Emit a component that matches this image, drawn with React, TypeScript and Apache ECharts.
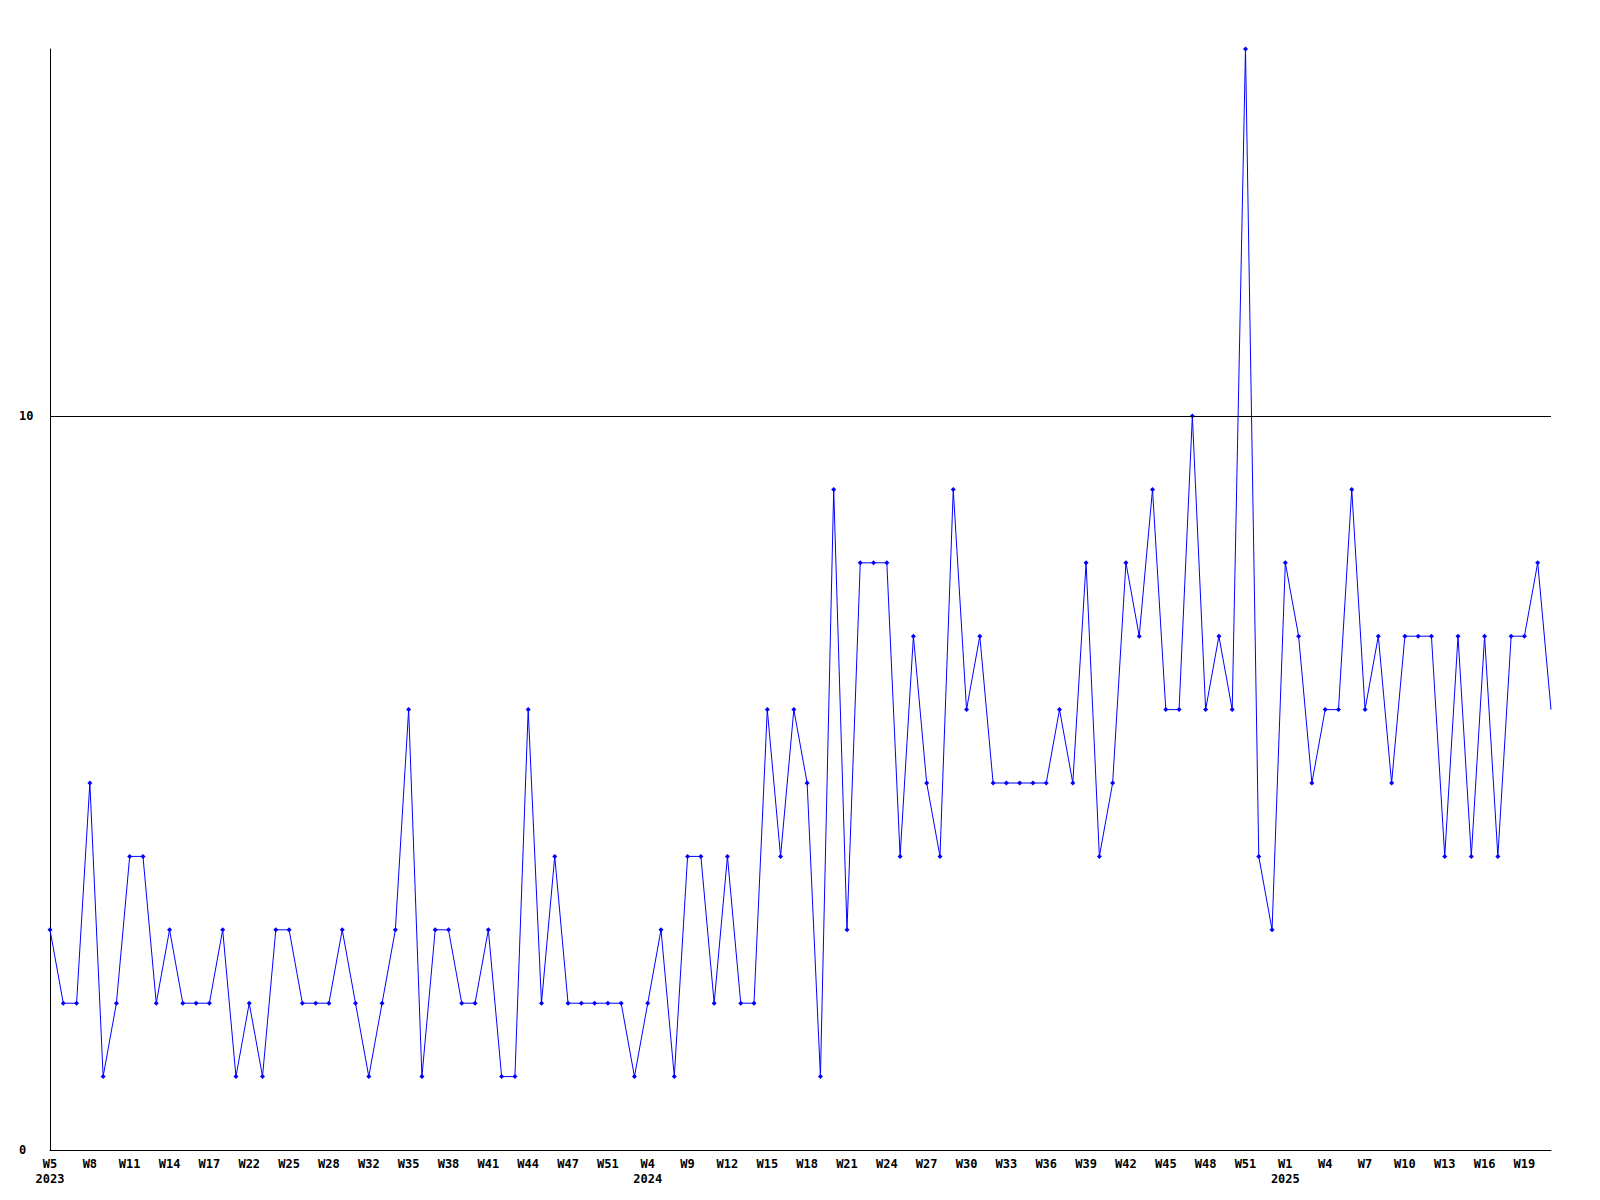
import React, { useEffect, useRef } from "react";
import * as echarts from "echarts";

// Week categories (year, week) — one entry per data point
const years: number[] = [
  2023, 2023, 2023, 2023, 2023, 2023, 2023, 2023, 2023, 2023,
  2023, 2023, 2023, 2023, 2023, 2023, 2023, 2023, 2023, 2023,
  2023, 2023, 2023, 2023, 2023, 2023, 2023, 2023, 2023, 2023,
  2023, 2023, 2023, 2023, 2023, 2023, 2023, 2023, 2023, 2023,
  2023, 2023, 2023, 2023, 2024, 2024, 2024, 2024, 2024, 2024,
  2024, 2024, 2024, 2024, 2024, 2024, 2024, 2024, 2024, 2024,
  2024, 2024, 2024, 2024, 2024, 2024, 2024, 2024, 2024, 2024,
  2024, 2024, 2024, 2024, 2024, 2024, 2024, 2024, 2024, 2024,
  2024, 2024, 2024, 2024, 2024, 2024, 2024, 2024, 2024, 2024,
  2024, 2024, 2024, 2025, 2025, 2025, 2025, 2025, 2025, 2025,
  2025, 2025, 2025, 2025, 2025, 2025, 2025, 2025, 2025, 2025,
  2025, 2025, 2025, 2025,
];

const weeks: number[] = [
  5, 6, 7, 8, 9, 10, 11, 12, 13, 14,
  15, 16, 17, 18, 20, 22, 23, 24, 25, 26,
  27, 28, 29, 30, 32, 33, 34, 35, 36, 37,
  38, 39, 40, 41, 42, 43, 44, 45, 46, 47,
  48, 49, 51, 52, 2, 4, 6, 7, 9, 10,
  11, 12, 13, 14, 15, 16, 17, 18, 19, 20,
  21, 22, 23, 24, 25, 26, 27, 28, 29, 30,
  31, 32, 33, 34, 35, 36, 37, 38, 39, 40,
  41, 42, 43, 44, 45, 46, 47, 48, 49, 50,
  51, 52, 53, 1, 2, 3, 4, 5, 6, 7,
  8, 9, 10, 11, 12, 13, 14, 15, 16, 17,
  18, 19, 20, 21,
];

const values: number[] = [
  3, 2, 2, 5, 1, 2, 4, 4, 2, 3,
  2, 2, 2, 3, 1, 2, 1, 3, 3, 2,
  2, 2, 3, 2, 1, 2, 3, 6, 1, 3,
  3, 2, 2, 3, 1, 1, 6, 2, 4, 2,
  2, 2, 2, 2, 1, 2, 3, 1, 4, 4,
  2, 4, 2, 2, 6, 4, 6, 5, 1, 9,
  3, 8, 8, 8, 4, 7, 5, 4, 9, 6,
  7, 5, 5, 5, 5, 5, 6, 5, 8, 4,
  5, 8, 7, 9, 6, 6, 10, 6, 7, 6,
  15, 4, 3, 8, 7, 5, 6, 6, 9, 6,
  7, 5, 7, 7, 7, 4, 7, 4, 7, 4,
  7, 7, 8, 6,
];

const yTicks = { min: 0, max: 15, interval: 10 };
const referenceLine = 10;

const categories: string[] = weeks.map((w, i) => `${years[i]}-W${w}`);
const LABEL_STEP = 3;

export default function App() {
  const ref = useRef<HTMLDivElement>(null);

  useEffect(() => {
    if (!ref.current) return;
    const chart = echarts.init(ref.current, undefined, { renderer: "svg" });
    const font = "'DejaVu Sans Mono', 'Liberation Mono', monospace";

    const labelFormatter = (_v: string, idx: number) => {
      const w = `W${weeks[idx]}`;
      const prev = idx - LABEL_STEP;
      if (idx === 0 || (prev >= 0 && years[prev] !== years[idx])) {
        return `${w}\n${years[idx]}`;
      }
      return w;
    };

    const last = values.length - 1;
    const seriesData = values.map((v, i) =>
      i === last ? { value: v, symbol: "none" } : v
    );

    chart.setOption({
      animation: false,
      backgroundColor: "#ffffff",
      grid: { left: 50, right: 49, top: 49, bottom: 50, containLabel: false },
      xAxis: {
        type: "category",
        data: categories,
        boundaryGap: false,
        axisLine: { show: true, lineStyle: { color: "#000000", width: 1 } },
        axisTick: { show: false },
        axisLabel: {
          interval: LABEL_STEP - 1,
          formatter: labelFormatter,
          color: "#000000",
          fontFamily: font,
          fontWeight: "bold",
          fontSize: 12,
          lineHeight: 15,
          margin: 6,
          verticalAlign: "top",
        },
        splitLine: { show: false },
      },
      yAxis: {
        type: "value",
        min: yTicks.min,
        max: yTicks.max,
        interval: yTicks.interval,
        axisLine: { show: true, lineStyle: { color: "#000000", width: 1 } },
        axisTick: { show: false },
        splitLine: { show: false },
        axisLabel: {
          showMaxLabel: false,
          color: "#000000",
          fontFamily: font,
          fontWeight: "bold",
          fontSize: 12,
          align: "left",
          margin: 31,
        },
      },
      series: [
        {
          type: "line",
          data: seriesData,
          symbol: "diamond",
          symbolSize: 5,
          showSymbol: true,
          showAllSymbol: true,
          lineStyle: { color: "#0000ff", width: 1 },
          itemStyle: { color: "#0000ff" },
          markLine: {
            silent: true,
            symbol: ["none", "none"],
            label: { show: false },
            lineStyle: { color: "#000000", width: 1, type: "solid" },
            data: [{ yAxis: referenceLine }],
          },
        },
      ],
    });

    return () => chart.dispose();
  }, []);

  return (
    <div
      ref={ref}
      style={{ position: "absolute", left: 0, top: 0, width: 1600, height: 1200 }}
    />
  );
}
